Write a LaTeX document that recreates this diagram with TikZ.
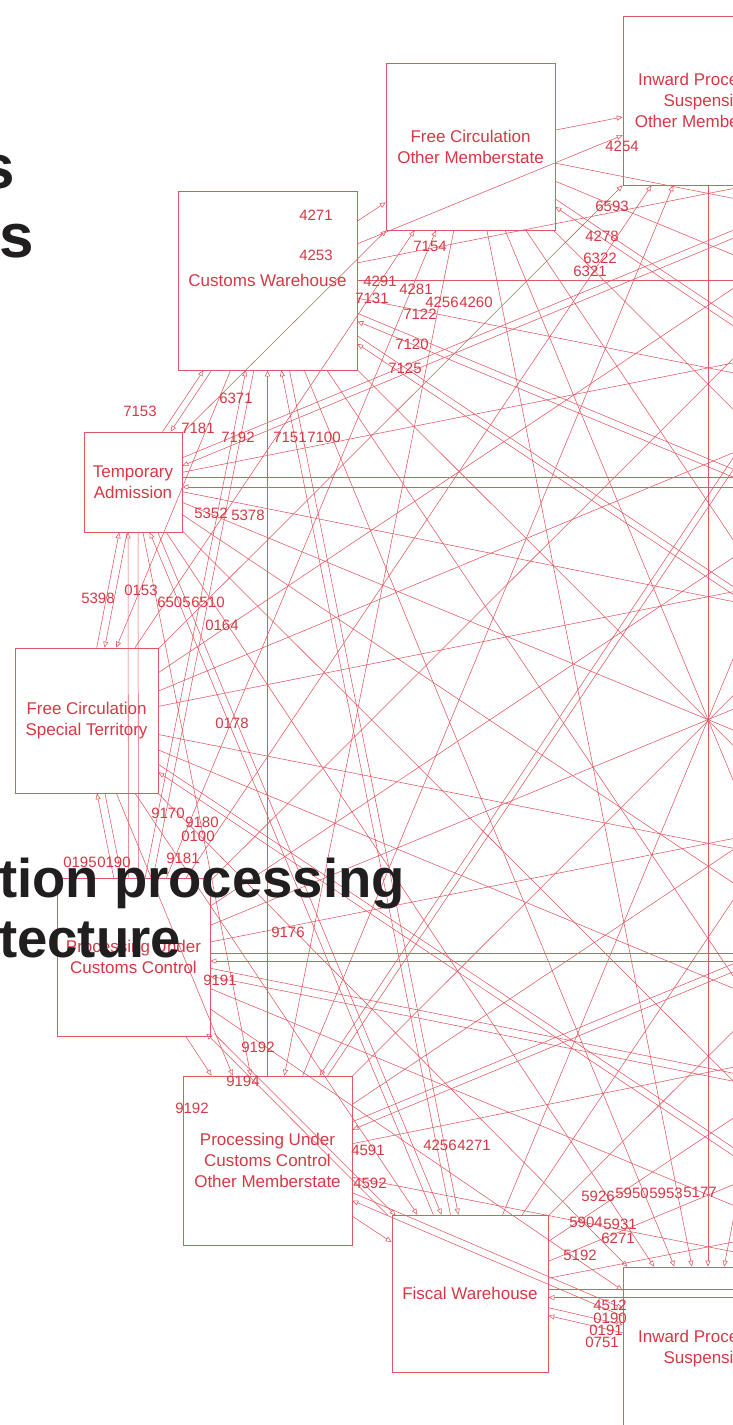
\documentclass[tikz,border=0pt]{standalone}
\usepackage{fontspec}
\setmainfont{Liberation Sans}
\usetikzlibrary{arrows.meta}
\definecolor{ln}{RGB}{224,88,98}
\definecolor{tx}{RGB}{214,56,68}
\definecolor{ink}{RGB}{33,30,31}
\newcommand\dblh[2]{\draw[con,transform canvas={yshift=4pt}] (#1) -- (#2);\draw[con,transform canvas={yshift=-4pt}] (#2) -- (#1);}
\newcommand\dblv[2]{\draw[con,transform canvas={xshift=4pt}] (#1) -- (#2);\draw[con,transform canvas={xshift=-4pt}] (#2) -- (#1);}
\newcommand\sgl[2]{\draw[con] (#1) -- (#2);}
\begin{document}
\begin{tikzpicture}[x=1pt,y=-1pt,
  box/.style={draw=ln, line width=0.6pt, inner sep=0pt, align=center, text=tx,
              font=\fontsize{17}{21}\selectfont},
  con/.style={draw=ln, line width=0.55pt, -{Triangle[open,length=6pt,width=5pt]}},
  lbl/.style={text=tx, font=\fontsize{15}{15}\selectfont, inner sep=0pt},
  ttl/.style={text=ink, inner sep=0pt, anchor=base west}]
\useasboundingbox (0,0) rectangle (733,1425);
\clip (0,0) rectangle (733,1425);
\fill[white] (0,0) rectangle (733,1425);

% visible states
\node[box,minimum width=170pt,minimum height=169pt] (n0) at (708,100.5) {Inward Processing\\Suspension\\Other Memberstate};
\node[box,minimum width=169pt,minimum height=167pt] (n1) at (470.5,146.5) {Free Circulation\\Other Memberstate};
\node[box,minimum width=179pt,minimum height=179pt] (n2) at (267.5,280.5) {Customs Warehouse};
\node[box,minimum width=98pt,minimum height=100pt] (n3) at (133,482) {Temporary\\Admission};
\node[box,minimum width=143pt,minimum height=145pt] (n4) at (86.5,720.5) {Free Circulation\\Special Territory};
\node[box,minimum width=153pt,minimum height=158pt] (n5) at (133.5,957) {Processing Under\\Customs Control};
\node[box,minimum width=169pt,minimum height=169pt] (n6) at (267.5,1160.5) {Processing Under\\Customs Control\\Other Memberstate};
\node[box,minimum width=156pt,minimum height=157pt] (n7) at (470,1293.5) {Fiscal Warehouse};
\node[box,minimum width=170pt,minimum height=163pt] (n8) at (708,1348.5) {Inward Processing\\Suspension};

% states beyond the right edge
\coordinate (r7) at (946,1293.5);
\coordinate (r6) at (1148.5,1160.5);
\coordinate (r5) at (1282.5,957);
\coordinate (r4) at (1329.5,720.5);
\coordinate (r3) at (1283,482);
\coordinate (r2) at (1148.5,280.5);
\coordinate (r1) at (945.5,146.5);

% connectors
\sgl{n1}{n0} \sgl{n2}{n0} \sgl{n0}{n8} \sgl{n4}{n0} \sgl{n5}{n0} \sgl{n6}{n0}
\sgl{n2}{n1} \sgl{n3}{n1} \sgl{n4}{n1} \sgl{n5}{n1} \sgl{n1}{n6} \sgl{n1}{n8}
\sgl{n1}{r7} \sgl{n1}{r6} \sgl{n1}{r5} \dblh{n1}{r4} \sgl{n1}{r3} \sgl{n1}{r2}
\dblv{n2}{n3} \sgl{n2}{n4} \dblv{n2}{n5} \sgl{n6}{n2} \dblv{n2}{n7} \sgl{n2}{n8}
\sgl{n2}{r7} \sgl{n2}{r6} \dblh{n2}{r5} \dblh{n2}{r4} \sgl{n2}{r3} \sgl{n2}{r2} \sgl{n2}{r1}
\dblv{n3}{n4} \draw[con,transform canvas={xshift=5pt}] (n3) -- (n5); \draw[con,transform canvas={xshift=-5pt}] (n5) -- (n3);
\sgl{n3}{n6} \dblv{n3}{n7} \sgl{n3}{n8} \sgl{n3}{r7} \sgl{n3}{r6} \sgl{n3}{r5} \sgl{n3}{r4}
\draw[con,transform canvas={yshift=5pt}] (n3) -- (r3); \draw[con,transform canvas={yshift=-5pt}] (r3) -- (n3);
\sgl{n3}{r2} \dblh{n3}{r1}
\dblv{n4}{n5} \sgl{n4}{n6} \sgl{n4}{n7} \sgl{n4}{n8} \dblh{n4}{r7} \sgl{n4}{r6} \sgl{n4}{r5}
\sgl{n4}{r3} \sgl{n4}{r2} \sgl{n4}{r1}
\sgl{n5}{n6} \dblv{n5}{n7} \sgl{n5}{n8} \sgl{n5}{r7} \dblh{n5}{r6} \dblh{n5}{r5} \sgl{n5}{r4}
\sgl{n5}{r3} \sgl{n5}{r2} \sgl{n5}{r1}
\sgl{n6}{n7} \dblh{n6}{n8} \sgl{n6}{r7} \sgl{n6}{r5} \dblh{n6}{r4} \sgl{n6}{r3} \sgl{n6}{r2} \dblv{n6}{r1}
\dblh{n7}{n8} \dblh{n7}{r7} \sgl{n7}{r6} \sgl{n7}{r5} \sgl{n7}{r4} \sgl{n7}{r3} \sgl{n7}{r2} \sgl{n7}{r1}
\sgl{r1}{n8} \sgl{r2}{n8}

% connector labels
\node[lbl] (a1) at (316,215) {4271};
\node[lbl] (a2) at (316,255) {4253};
\node[lbl] (a3) at (622,146) {4254};
\node[lbl] (a4) at (612,206) {6593};
\node[lbl] (a5) at (602,236) {4278};
\node[lbl] (a6) at (600,258) {6322};
\node[lbl] (a7) at (590,271) {6321};
\node[lbl] (a8) at (430,246) {7154};
\node[lbl] (a9) at (380,281) {4291};
\node[lbl] (a10) at (416,289) {4281};
\node[lbl] (a11) at (372,298) {7131};
\node[lbl] (a12) at (442,302) {4256};
\node[lbl] (a13) at (476,302) {4260};
\node[lbl] (a14) at (420,314) {7122};
\node[lbl] (a15) at (412,344) {7120};
\node[lbl] (a16) at (405,368) {7125};
\node[lbl] (a17) at (236,398) {6371};
\node[lbl] (a18) at (140,411) {7153};
\node[lbl] (a19) at (198,428) {7181};
\node[lbl] (a20) at (238,437) {7192};
\node[lbl] (a21) at (290,437) {7151};
\node[lbl] (a22) at (324,437) {7100};
\node[lbl] (a23) at (211,513) {5352};
\node[lbl] (a24) at (248,515) {5378};
\node[lbl] (a25) at (98,598) {5398};
\node[lbl] (a26) at (141,590) {0153};
\node[lbl] (a27) at (174,602) {6505};
\node[lbl] (a28) at (208,602) {6510};
\node[lbl] (a29) at (222,625) {0164};
\node[lbl] (a30) at (232,723) {0178};
\node[lbl] (a31) at (168,813) {9170};
\node[lbl] (a32) at (202,822) {9180};
\node[lbl] (a33) at (198,836) {0100};
\node[lbl] (a34) at (80,862) {0195};
\node[lbl] (a35) at (114,862) {0190};
\node[lbl] (a36) at (183,858) {9181};
\node[lbl] (a37) at (288,932) {9176};
\node[lbl] (a38) at (220,980) {9191};
\node[lbl] (a39) at (258,1047) {9192};
\node[lbl] (a40) at (243,1081) {9194};
\node[lbl] (a41) at (192,1108) {9192};
\node[lbl] (a42) at (368,1150) {4591};
\node[lbl] (a43) at (370,1183) {4592};
\node[lbl] (a44) at (440,1145) {4256};
\node[lbl] (a45) at (474,1145) {4271};
\node[lbl] (a46) at (598,1196) {5926};
\node[lbl] (a47) at (632,1193) {5950};
\node[lbl] (a48) at (666,1193) {5953};
\node[lbl] (a49) at (700,1192) {5177};
\node[lbl] (a50) at (586,1222) {5904};
\node[lbl] (a51) at (620,1224) {5931};
\node[lbl] (a52) at (618,1238) {6271};
\node[lbl] (a53) at (580,1255) {5192};
\node[lbl] (a54) at (610,1305) {4512};
\node[lbl] (a55) at (610,1318) {0190};
\node[lbl] (a56) at (606,1330) {0191};
\node[lbl] (a57) at (602,1342) {0751};

% slide title text over the diagram
\node[ttl, anchor=base east, font=\fontsize{62}{62}\selectfont\bfseries] (t1) at (15,188) {s};
\node[ttl, anchor=base east, font=\fontsize{62}{62}\selectfont\bfseries] (t2) at (34,257) {s};
\node[ttl, font=\fontsize{54.5}{60}\selectfont\bfseries] (t3) at (-1,897) {tion processing};
\node[ttl, font=\fontsize{54.5}{60}\selectfont\bfseries] (t4) at (-1,957) {tecture};
\end{tikzpicture}
\end{document}
